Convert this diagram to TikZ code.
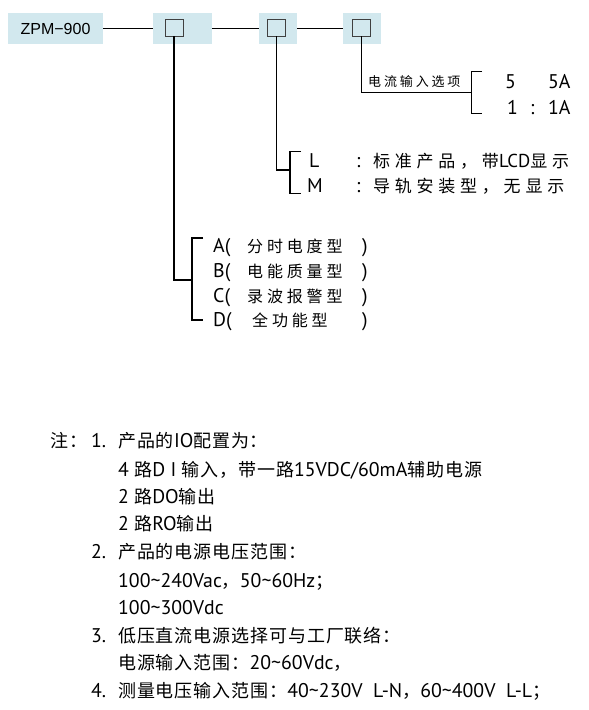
\documentclass[tikz,border=0pt]{standalone}
\usepackage{fontspec}
\setmainfont{Noto Sans CJK SC}
\newfontfamily\notefont[LetterSpace=5]{Noto Sans CJK SC}
\newfontfamily\optfont[LetterSpace=28]{Noto Sans CJK SC}
\newfontfamily\typefont[LetterSpace=24]{Noto Sans CJK SC}
\newfontfamily\smallfont[LetterSpace=22]{Noto Sans CJK SC}
\newfontfamily\latinfont[Scale=1.1]{PT Sans}
\newfontfamily\arialfont{Liberation Sans}
\newcommand{\eng}[1]{{\latinfont #1}}
\definecolor{boxblue}{HTML}{D2E8EE}
\definecolor{sqgray}{HTML}{404040}
\tikzset{
  hdbox/.style={fill=boxblue, minimum height=31pt, inner sep=0pt},
  optsq/.style={draw=sqgray, fill=boxblue, line width=0.9pt, minimum width=18pt, minimum height=17pt, inner sep=0pt},
  wire/.style={line width=1.4pt},
  txt/.style={anchor=base west, inner sep=0pt},
  note/.style={txt, font=\notefont\fontsize{18}{20}\selectfont},
  opt/.style={txt, font=\optfont\fontsize{17}{19}\selectfont},
  lat/.style={txt, font=\latinfont\fontsize{18}{20}\selectfont},
  typ/.style={txt, font=\typefont\fontsize{16}{18}\selectfont}
}

\begin{document}
\begin{tikzpicture}[x=1pt, y=-1pt]
\useasboundingbox (0,0) rectangle (589,710);
% model code and option boxes
\node[hdbox, minimum width=95pt, font=\arialfont\fontsize{16}{18}\selectfont] (model) at (55.5,28.5) {ZPM−900};
\node[hdbox, minimum width=59pt] (opA) at (182.5,28.5) {};
\node[hdbox, minimum width=38pt] (opB) at (278,28.5) {};
\node[hdbox, minimum width=38pt] (opC) at (362,28.5) {};
\node[optsq] (sqA) at (174,27.5) {};
\node[optsq] (sqB) at (276.5,27.5) {};
\node[optsq] (sqC) at (361.5,27.5) {};
\draw[wire] (model.east) -- (opA.west);
\draw[wire] (opA.east) -- (opB.west);
\draw[wire] (opB.east) -- (opC.west);
% current input option
\coordinate (bkC) at (471.7,92.7);
\coordinate (bkCt) at (482,71.7);
\coordinate (bkCb) at (482,113.3);
\draw[wire] (sqC.south) |- (bkC);
\draw[wire] (bkCt) -| (bkC) |- (bkCb);
\node[txt, font=\smallfont\fontsize{13}{15}\selectfont] (curlbl) at (368,86) {电流输入选项};
\node[lat] (c5) at (505,88) {5};
\node[lat] (c5a) at (548,88) {5A};
\node[lat] (c1) at (507,114) {1};
\node[lat] (c1s) at (530,114) {:};
\node[lat] (c1a) at (548,114) {1A};
% mounting option
\coordinate (bkB) at (290,170);
\coordinate (bkBt) at (301,151.7);
\coordinate (bkBb) at (301,193.3);
\draw[wire] (sqB.south) |- (bkB);
\draw[wire] (bkBt) -| (bkB) |- (bkBb);
\node[lat] (mL) at (309,167) {L};
\node[lat] (mLs) at (356,167) {:};
\node[opt] (mLt) at (373,167) {标准产品，带\eng{LCD}显示};
\node[lat] (mM) at (307,192) {M};
\node[lat] (mMs) at (356,192) {:};
\node[opt] (mMt) at (373,192) {导轨安装型，无显示};
% function type
\coordinate (bkA) at (192,280);
\coordinate (bkAt) at (203,238);
\coordinate (bkAb) at (203,320);
\draw[wire] (sqA.south) |- (bkA);
\draw[wire] (bkAt) -| (bkA) |- (bkAb);
\node[lat] (tA) at (213,252) {A(};
\node[typ] (tAt) at (247,252) {分时电度型};
\node[lat] (tAe) at (362,252) {)};
\node[lat] (tB) at (213,277) {B(};
\node[typ] (tBt) at (247,277) {电能质量型};
\node[lat] (tBe) at (362,277) {)};
\node[lat] (tC) at (213,302) {C(};
\node[typ] (tCt) at (247,302) {录波报警型};
\node[lat] (tCe) at (362,302) {)};
\node[lat] (tD) at (213,326) {D(};
\node[typ] (tDt) at (252,326) {全功能型};
\node[lat] (tDe) at (362,326) {)};
% notes
\node[note] (n0) at (50,447) {注：};
\node[note] (n1) at (91,447) {\eng{1.}};
\node[note] (n1a) at (118,447) {产品的\eng{IO}配置为：};
\node[note] (n1b) at (118,476) {\eng{4 }路\eng{D I }输入，带一路\eng{15VDC/60mA}辅助电源};
\node[note] (n1c) at (118,503) {\eng{2 }路\eng{DO}输出};
\node[note] (n1d) at (118,530) {\eng{2 }路\eng{RO}输出};
\node[note] (n2) at (91,558) {\eng{2.}};
\node[note] (n2a) at (118,558) {产品的电源电压范围：};
\node[note] (n2b) at (118,587) {\eng{100\string~240Vac}，\eng{50\string~60Hz}；};
\node[note] (n2c) at (118,614) {\eng{100\string~300Vdc}};
\node[note] (n3) at (91,642) {\eng{3.}};
\node[note] (n3a) at (118,642) {低压直流电源选择可与工厂联络：};
\node[note] (n3b) at (118,669) {电源输入范围：\eng{20\string~60Vdc}，};
\node[note] (n4) at (91,697) {\eng{4.}};
\node[note] (n4a) at (118,697) {测量电压输入范围：\eng{40\string~230V\ \ L-N}，\eng{60\string~400V\ \ L-L}；};
\end{tikzpicture}
\end{document}
